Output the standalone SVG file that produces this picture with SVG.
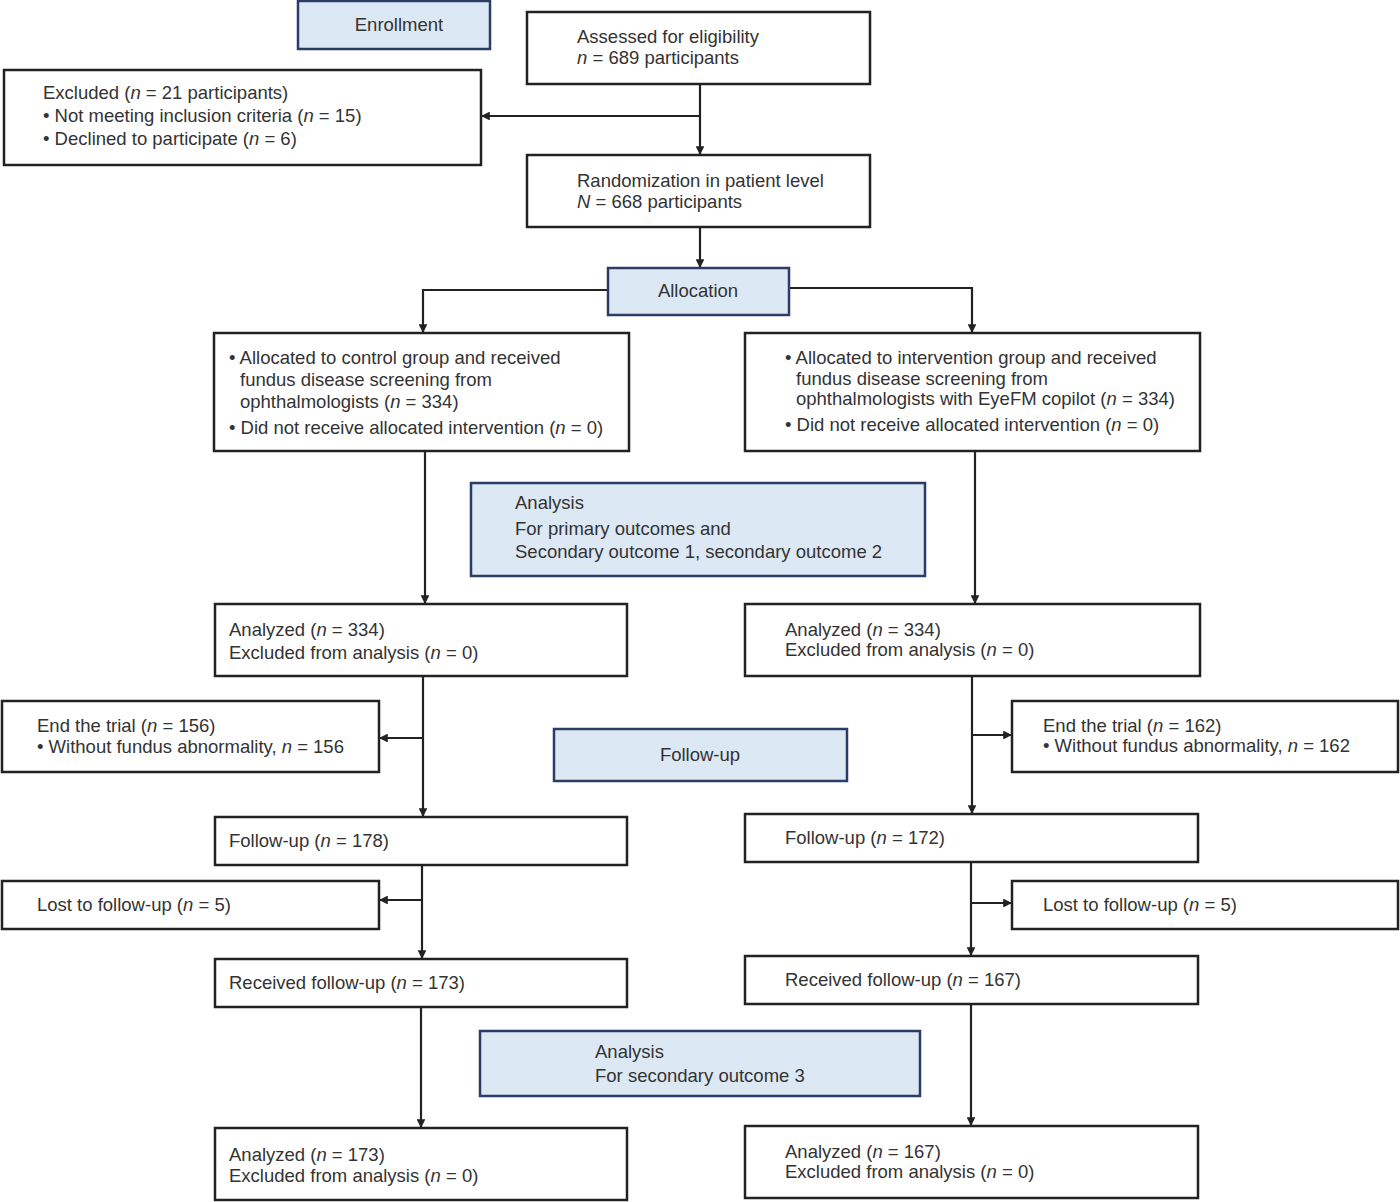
<svg xmlns="http://www.w3.org/2000/svg" width="1400" height="1202" viewBox="0 0 1400 1202">
<style>
.box{fill:#ffffff;stroke:#222222;stroke-width:2.5}
.hdr{fill:#dde8f5;stroke:#2b3d66;stroke-width:2.5}
text{font-family:"Liberation Sans","Open Sans",Arial,sans-serif;font-size:18.5px;fill:#333333}
.c{text-anchor:middle}
.i{font-style:italic}
.ln{fill:none;stroke:#222222;stroke-width:2.2}
</style>
<defs>
<marker id="ar" viewBox="0 0 10 10" refX="10" refY="5" markerWidth="4" markerHeight="4" orient="auto" markerUnits="strokeWidth">
<path d="M0,0 L10,5 L0,10 Z" fill="#222222"/>
</marker>
</defs>
<rect width="1400" height="1202" fill="#ffffff"/>

<g id="connectors">
<path class="ln" d="M700,84 V155" marker-end="url(#ar)"/>
<path class="ln" d="M700,116 H481" marker-end="url(#ar)"/>
<path class="ln" d="M700,227 V268" marker-end="url(#ar)"/>
<path class="ln" d="M608,290 H423 V333" marker-end="url(#ar)"/>
<path class="ln" d="M789,288 H972 V333" marker-end="url(#ar)"/>
<path class="ln" d="M425,451 V604" marker-end="url(#ar)"/>
<path class="ln" d="M975,451 V604" marker-end="url(#ar)"/>
<path class="ln" d="M423,676 V817" marker-end="url(#ar)"/>
<path class="ln" d="M423,738 H379" marker-end="url(#ar)"/>
<path class="ln" d="M972,676 V814" marker-end="url(#ar)"/>
<path class="ln" d="M972,735 H1012" marker-end="url(#ar)"/>
<path class="ln" d="M422,865 V959" marker-end="url(#ar)"/>
<path class="ln" d="M422,900 H379" marker-end="url(#ar)"/>
<path class="ln" d="M971,862 V956" marker-end="url(#ar)"/>
<path class="ln" d="M971,903 H1012" marker-end="url(#ar)"/>
<path class="ln" d="M421,1007 V1128" marker-end="url(#ar)"/>
<path class="ln" d="M971,1004 V1126" marker-end="url(#ar)"/>
</g>

<g id="enrollment">
<rect class="hdr" x="298" y="1" width="192" height="48"/>
<text class="c" x="399" y="31">Enrollment</text>
</g>

<g id="assessed">
<rect class="box" x="527" y="12" width="343" height="72"/>
<text x="577" y="43">Assessed for eligibility</text>
<text x="577" y="64"><tspan class="i">n</tspan> = 689 participants</text>
</g>

<g id="excluded">
<rect class="box" x="4" y="70" width="477" height="95"/>
<text x="43" y="99">Excluded (<tspan class="i">n</tspan> = 21 participants)</text>
<text x="43" y="122">• Not meeting inclusion criteria (<tspan class="i">n</tspan> = 15)</text>
<text x="43" y="145">• Declined to participate (<tspan class="i">n</tspan> = 6)</text>
</g>

<g id="randomization">
<rect class="box" x="527" y="155" width="343" height="72"/>
<text x="577" y="187">Randomization in patient level</text>
<text x="577" y="208"><tspan class="i">N</tspan> = 668 participants</text>
</g>

<g id="allocation">
<rect class="hdr" x="608" y="268" width="181" height="47"/>
<text class="c" x="698" y="297">Allocation</text>
</g>

<g id="control-alloc">
<rect class="box" x="214" y="333" width="415" height="118"/>
<text x="229" y="364">• Allocated to control group and received</text>
<text x="240" y="386">fundus disease screening from</text>
<text x="240" y="408">ophthalmologists (<tspan class="i">n</tspan> = 334)</text>
<text x="229" y="434">• Did not receive allocated intervention (<tspan class="i">n</tspan> = 0)</text>
</g>

<g id="intervention-alloc">
<rect class="box" x="745" y="333" width="455" height="118"/>
<text x="785" y="364">• Allocated to intervention group and received</text>
<text x="796" y="385">fundus disease screening from</text>
<text x="796" y="405">ophthalmologists with EyeFM copilot (<tspan class="i">n</tspan> = 334)</text>
<text x="785" y="431">• Did not receive allocated intervention (<tspan class="i">n</tspan> = 0)</text>
</g>

<g id="analysis1">
<rect class="hdr" x="471" y="483" width="454" height="93"/>
<text x="515" y="509">Analysis</text>
<text x="515" y="535">For primary outcomes and</text>
<text x="515" y="558">Secondary outcome 1, secondary outcome 2</text>
</g>

<g id="analyzed-left">
<rect class="box" x="215" y="604" width="412" height="72"/>
<text x="229" y="636">Analyzed (<tspan class="i">n</tspan> = 334)</text>
<text x="229" y="659">Excluded from analysis (<tspan class="i">n</tspan> = 0)</text>
</g>

<g id="analyzed-right">
<rect class="box" x="745" y="604" width="455" height="72"/>
<text x="785" y="636">Analyzed (<tspan class="i">n</tspan> = 334)</text>
<text x="785" y="656">Excluded from analysis (<tspan class="i">n</tspan> = 0)</text>
</g>

<g id="end-left">
<rect class="box" x="2" y="701" width="377" height="71"/>
<text x="37" y="732">End the trial (<tspan class="i">n</tspan> = 156)</text>
<text x="37" y="753">• Without fundus abnormality, <tspan class="i">n</tspan> = 156</text>
</g>

<g id="followup-hdr">
<rect class="hdr" x="554" y="729" width="293" height="52"/>
<text class="c" x="700" y="761">Follow-up</text>
</g>

<g id="end-right">
<rect class="box" x="1012" y="701" width="386" height="71"/>
<text x="1043" y="732">End the trial (<tspan class="i">n</tspan> = 162)</text>
<text x="1043" y="752">• Without fundus abnormality, <tspan class="i">n</tspan> = 162</text>
</g>

<g id="followup-left">
<rect class="box" x="215" y="817" width="412" height="48"/>
<text x="229" y="847">Follow-up (<tspan class="i">n</tspan> = 178)</text>
</g>

<g id="followup-right">
<rect class="box" x="745" y="814" width="453" height="48"/>
<text x="785" y="844">Follow-up (<tspan class="i">n</tspan> = 172)</text>
</g>

<g id="lost-left">
<rect class="box" x="2" y="881" width="377" height="48"/>
<text x="37" y="911">Lost to follow-up (<tspan class="i">n</tspan> = 5)</text>
</g>

<g id="lost-right">
<rect class="box" x="1012" y="881" width="386" height="48"/>
<text x="1043" y="911">Lost to follow-up (<tspan class="i">n</tspan> = 5)</text>
</g>

<g id="received-left">
<rect class="box" x="215" y="959" width="412" height="48"/>
<text x="229" y="989">Received follow-up (<tspan class="i">n</tspan> = 173)</text>
</g>

<g id="received-right">
<rect class="box" x="745" y="956" width="453" height="48"/>
<text x="785" y="986">Received follow-up (<tspan class="i">n</tspan> = 167)</text>
</g>

<g id="analysis2">
<rect class="hdr" x="480" y="1031" width="440" height="65"/>
<text x="595" y="1058">Analysis</text>
<text x="595" y="1082">For secondary outcome 3</text>
</g>

<g id="final-left">
<rect class="box" x="215" y="1128" width="412" height="72"/>
<text x="229" y="1161">Analyzed (<tspan class="i">n</tspan> = 173)</text>
<text x="229" y="1182">Excluded from analysis (<tspan class="i">n</tspan> = 0)</text>
</g>

<g id="final-right">
<rect class="box" x="745" y="1126" width="453" height="72"/>
<text x="785" y="1158">Analyzed (<tspan class="i">n</tspan> = 167)</text>
<text x="785" y="1178">Excluded from analysis (<tspan class="i">n</tspan> = 0)</text>
</g>
</svg>
